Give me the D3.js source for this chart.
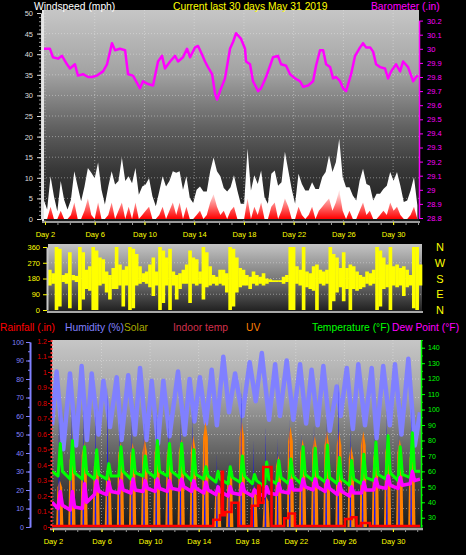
<!DOCTYPE html>
<html lang="en">
<head>
<meta charset="UTF-8" />
<title>Last 30 days</title>
<style>
  html, body { margin: 0; padding: 0; background: #000; }
  svg { display: block; }
</style>
</head>
<body>
<div id="chart"></div>
<script src="https://cdn.jsdelivr.net/npm/d3@7"></script>
<script>
// ---------- data ----------
const dayTicks = [2, 6, 10, 14, 18, 22, 26, 30];
const days = d3.range(2, 32); // day 2 .. day 31

// barometer (.in)
const baroDay = [1.92,2.40,2.64,3.05,3.37,3.77,4.01,4.41,4.65,5.06,5.46,5.78,6.18,6.67,6.99,7.39,7.63,8.03,8.44,8.68,9.08,9.64,9.88,10.29,10.69,11.09,11.41,11.65,12.06,12.46,12.70,13.10,13.42,13.67,14.07,14.31,14.63,14.87,15.11,15.44,15.68,15.84,16.08,16.48,16.88,17.13,17.37,17.77,18.09,18.17,18.49,18.73,19.14,19.38,19.78,20.10,20.34,20.74,20.99,21.39,21.71,22.11,22.51,22.76,23.16,23.56,23.80,24.12,24.37,24.61,24.93,25.17,25.41,25.73,25.97,26.22,26.62,26.94,27.34,27.58,27.82,28.15,28.39,28.63,28.95,29.35,29.59,29.84,30.24,30.56,30.80,31.20,31.61,31.85,32.0];
const baroValue = [30.00,30.00,29.94,29.93,29.95,29.89,29.86,29.89,29.81,29.82,29.80,29.80,29.81,29.84,29.89,30.04,29.99,30.00,29.99,29.82,29.81,29.72,29.77,29.75,29.74,29.91,29.95,29.86,29.91,29.95,29.91,29.94,30.00,29.94,30.01,30.02,29.96,29.91,29.87,29.82,29.68,29.64,29.70,29.79,30.00,30.05,30.11,30.07,30.00,29.91,29.89,29.77,29.70,29.72,29.80,29.88,29.94,29.95,29.89,29.88,29.82,29.79,29.77,29.73,29.74,29.77,29.88,29.99,29.99,29.89,29.87,29.79,29.80,29.77,29.72,29.70,29.82,29.95,30.01,30.04,30.01,30.01,29.98,29.89,29.87,29.86,29.79,29.84,29.89,29.84,29.91,29.87,29.77,29.80,29.81];

// wind gust and average wind (mph), evenly spaced through the 30 days
const windGust = [4.7,2.3,10.4,5.5,1.9,9.2,4.7,2.3,4.7,11.6,7.9,4.3,7.9,12.4,11.2,9.9,13.7,7.1,3.5,7.9,11.6,8.4,9.2,14.9,9.2,10.4,8.7,12.4,5.9,7.9,8.4,9.9,5.5,3.1,6.7,10.4,7.9,9.2,11.6,11.2,11.6,7.1,10.4,5.1,3.9,7.1,7.9,6.7,6.7,11.6,14.9,11.6,10.4,7.5,6.7,
  7.7,10.6,6.9,3.7,3.7,17.1,6.9,10.6,8.5,11.8,5.3,3.7,11,11.8,8.1,8.9,16.3,11.8,7.3,3.7,11,8.5,6.9,6.9,8.9,7.3,7.3,10.2,11.4,15.4,11.4,13.8,19.5,10.2,7.7,7.7,5.7,4.5,9.3,12.2,8.5,8.1,4.5,6.1,6.1,7.3,8.1,11.4,9.3,11.4,8.1,4.1,4.5,6.9,10.2,3.3];
const windAvg = [0,0,3,0,0,2,0,0,1,4,0,0,2,5,1,0,4,0,0,1,4,0,2,4,0,3,0,4,0,1,2,3,0,0,1,3,0,2,4,1,4,0,3,0,0,1,2,0,1,4,6,3,1,2,0,
  2,3,0,0,0,5,0,3,1,4,0,0,3,4,0,2,5,3,0,0,3,1,0,1,3,0,2,3,4,5,2,4,7,2,0,2,0,0,2,4,1,2,0,0,1,2,1,4,2,3,1,0,0,1,3,0];

// wind direction range per time slot (degrees)
const dirLow = [140,150,0,20,160,150,10,170,160,0, 60,120,110,0,0,140,150,100,60,120, 120,140,20,140,0,10,140,150,160,150, 130,80,140,0,40,140,0,140,60,120,
  150,150,40,150,140,150,60,130,140,150, 140,150,140,100,0,20,100,130,140,140, 120,150,140,150,140,150,160,160,160,160, 150,160,0,0,150,140,0,130,120,110,
  0,150,140,150,0,50,100,130,50,120, 0,120,110,120,130,150,140,150,0,20, 120,130,0,140,130,140,80,130,140,10, 0,140];
const dirHigh = [230,210,360,350,200,210,330,200,195,360, 330,230,250,360,340,300,290,220,200,240, 360,260,230,250,360,350,320,250,210,220, 260,300,220,360,340,300,350,220,200,210,
  230,260,340,300,290,220,360,330,250,200, 190,230,230,210,360,350,300,240,230,200, 190,220,200,190,210,180,175,170,170,170, 190,200,360,360,250,230,360,220,210,250,
  260,230,220,230,360,320,300,240,330,240, 260,250,220,200,190,220,210,230,360,340, 300,260,360,250,260,240,250,230,200,360, 360,260];
const compass = ["N", "W", "S", "E", "N"];

// humidity (%)
const humDay = [1.92,2.30,2.85,3.40,3.90,4.36,4.80,5.19,5.75,6.15,6.70,7.25,7.65,8.20,8.75,9.17,9.70,10.13,10.65,11.09,11.60,12.30,12.85,13.25,13.65,14.10,14.60,15.07,15.50,16.03,16.50,17.00,17.60,18.20,18.70,19.20,19.80,20.30,20.70,21.25,21.80,22.35,22.85,23.30,23.80,24.27,24.80,25.37,25.70,26.20,26.70,27.15,27.70,28.25,28.65,29.20,29.75,30.17,30.70,31.27,31.80,32.23];
const humValue = [55,84,42,83,44,87,47,83,50,79,54,81,47,82,50,86,47,79,45,79,49,84,50,80,57,81,56,85,55,92,62,83,60,89,68,94,58,88,60,90,58,88,56,85,55,87,52,76,60,86,53,88,55,86,48,87,55,88,50,91,44,62];

// daily readings, day 2 .. day 31
const solar = [20,30,32,28,22,32,32,34,34,32,33,34,38,18,22,38,18,14,28,36,33,34,36,36,30,36,30,33,33,30];
const solarPeak = [65,65,65,64,76,58,60,56,63,60,61,63,47,40,36,78,47,55,48,58,51,56,59,79,56,52,52,63,52,65];
const uv = [4.0,6.7,7.2,6.1,4.6,7.2,7.2,7.5,7.5,7.2,7.5,7.8,9.0,3.5,5.0,9.0,3.5,2.6,6.1,8.6,7.5,7.8,8.2,8.2,6.9,8.2,6.9,7.5,7.5,6.9];
const tempMin = [57,55,55,55,55,57,55,57,56,57,56,54,55,53,52,53,52,50,52,52,52,54,53,52,51,52,54,55,54,56];
const tempMax = [78,80,76,74,65,76,74,70,80,78,78,74,63,60,63,70,58,66,67,68,76,75,77,69,67,71,79,83,76,85];
const tempEve = [60,59,59,58,57,60,59,60,60,60,59,58,57,55,56,57,54,55,56,57,58,57,56,55,55,56,58,59,58,60];
const dewMin = [36,35,36,45,45,46,46,47,47,47,48,47,46,45,44,45,44,44,45,46,48,48,47,45,44,46,48,49,49,52];
const dewMax = [47,47,52,54,53,54,55,54,55,54,55,54,53,50,50,52,48,50,52,54,55,55,54,52,50,53,55,57,56,60];
const dewEve = [38,37,40,47,47,48,48,49,49,49,50,49,48,47,46,47,46,46,47,48,50,50,49,47,46,48,50,51,51,54];

// rainfall (.in), stepped
const rainDay = [1.92,15.2,15.76,15.9,16.0,16.17,16.7,17.27,18.37,18.9,19.05,19.32,20.0,21.05,21.4,21.93,26.05,26.6,27.0,27.4,28.1,32.23];
const rainValue = [0,0.04,0.07,0.35,0.07,0.09,0.15,0,0.13,0.26,0.15,0.38,0,0.05,0.08,0,0.045,0.056,0,0.02,0,0];

// ---------- chart ----------
const W = 466, H = 555;
const FONT = "'Liberation Sans', Arial, sans-serif";
const svg = d3.select("#chart").append("svg").attr("width", W).attr("height", H)
  .style("font-family", FONT);
const defs = svg.append("defs");

function vGrad(id, y0, y1, stops) {
  const g = defs.append("linearGradient").attr("id", id)
    .attr("gradientUnits", "userSpaceOnUse")
    .attr("x1", 0).attr("x2", 0).attr("y1", y0).attr("y2", y1);
  stops.forEach(([o, c, a]) => g.append("stop").attr("offset", o).attr("stop-color", c)
    .attr("stop-opacity", a == null ? 1 : a));
}
function clip(id, x, y, w, h) {
  defs.append("clipPath").attr("id", id).append("rect").attr("x", x).attr("y", y).attr("width", w).attr("height", h);
}
function styleAxis(g, color, size) {
  g.attr("font-family", FONT).attr("font-size", size);
  g.selectAll(".domain").attr("stroke", color);
  g.selectAll(".tick line").attr("stroke", color);
  g.selectAll(".tick text").attr("fill", color);
  return g;
}
const fmt1 = d => String(+d.toFixed(1));
const dayFmt = d => "Day " + d;

// ===== top panel: wind speed + barometer =====
const topBox = { x: 43, y: 10, w: 376, h: 212 };
const xTop = d3.scaleLinear().domain([1.84, 32]).range([43, 418]);
const yWind = d3.scaleLinear().domain([0, 50]).range([219, 13]);
const yBaro = d3.scaleLinear().domain([28.8, 30.2]).range([218, 20.6]);
const gustTime = d3.scaleLinear().domain([0, windGust.length - 1]).range([1.9, 31.95]);

vGrad("bgTop", topBox.y, topBox.y + topBox.h, [[0, "#c6c6c6"], [0.3, "#a2a2a2"], [0.55, "#626262"], [0.75, "#383838"], [1, "#1a1a1a"]]);
vGrad("redFade", yWind(0), yWind(6), [[0, "#ff0000", 1], [1, "#ff0000", 0.15]]);
clip("clipTop", topBox.x, topBox.y, topBox.w, topBox.h);

svg.append("rect").attr("x", topBox.x).attr("y", topBox.y).attr("width", topBox.w).attr("height", topBox.h)
  .attr("fill", "url(#bgTop)");

const topGrid = svg.append("g").attr("stroke", "#e8e8e8").attr("stroke-opacity", 0.45)
  .attr("stroke-dasharray", "1,2");
topGrid.selectAll("line.h").data(d3.range(5, 50, 5)).join("line").attr("class", "h")
  .attr("x1", topBox.x).attr("x2", topBox.x + topBox.w).attr("y1", d => yWind(d)).attr("y2", d => yWind(d));
topGrid.selectAll("line.v").data(dayTicks).join("line").attr("class", "v")
  .attr("x1", d => xTop(d)).attr("x2", d => xTop(d)).attr("y1", topBox.y).attr("y2", topBox.y + topBox.h);

const gTop = svg.append("g").attr("clip-path", "url(#clipTop)");
const windArea = d3.area().x((d, i) => xTop(gustTime(i))).y0(yWind(0)).y1(d => yWind(d));
gTop.append("path").datum(windGust).attr("fill", "#ffffff").attr("d", windArea);
gTop.append("path").datum(windAvg).attr("fill", "url(#redFade)").attr("d", windArea);
gTop.append("path").datum(d3.zip(baroDay, baroValue))
  .attr("fill", "none").attr("stroke", "#ff00ff").attr("stroke-width", 2.5).attr("stroke-linejoin", "round")
  .attr("d", d3.line().x(d => xTop(d[0])).y(d => yBaro(d[1])));

// panel rims
svg.append("line").attr("x1", 43).attr("x2", 43).attr("y1", topBox.y).attr("y2", topBox.y + topBox.h)
  .attr("stroke", "#e6e6e6").attr("stroke-width", 2);
svg.append("line").attr("x1", 42).attr("x2", 420).attr("y1", 222).attr("y2", 222)
  .attr("stroke", "#9a9a9a").attr("stroke-width", 2);

// axes
styleAxis(svg.append("g").attr("transform", "translate(41,0)")
  .call(d3.axisLeft(yWind).tickValues(d3.range(0, 51, 1)).tickSize(2).tickFormat("").tickSizeOuter(0)), "#9a9a9a", 7.5);
styleAxis(svg.append("g").attr("transform", "translate(41,0)")
  .call(d3.axisLeft(yWind).tickValues(d3.range(0, 51, 5)).tickSize(4).tickPadding(4).tickSizeOuter(0)), "#dcdcdc", 7.5);
styleAxis(svg.append("g").attr("transform", "translate(419,0)")
  .call(d3.axisRight(yBaro).tickValues(d3.range(288, 303).map(v => v / 10)).tickSize(4).tickPadding(4)
    .tickFormat(fmt1).tickSizeOuter(0)), "#ff00ff", 7.5)
  .select(".domain").attr("stroke-width", 1.5);
styleAxis(svg.append("g").attr("transform", "translate(0,222)")
  .call(d3.axisBottom(xTop).tickValues(d3.range(2, 33)).tickSize(3).tickFormat("").tickSizeOuter(0)), "#9a9a9a", 7.5)
  .select(".domain").remove();
styleAxis(svg.append("g").attr("transform", "translate(0,222)")
  .call(d3.axisBottom(xTop).tickValues(dayTicks).tickSize(3).tickPadding(7).tickFormat(dayFmt).tickSizeOuter(0)), "#ffff00", 7.5)
  .select(".domain").remove();

// header
const head = svg.append("g").attr("font-size", 10.3);
head.append("text").attr("x", 34).attr("y", 9.5).attr("fill", "#ffffff").text("Windspeed (mph)");
head.append("text").attr("x", 173).attr("y", 9.5).attr("fill", "#ffff00").text("Current last 30 days May 31 2019");
head.append("text").attr("x", 371).attr("y", 9.5).attr("fill", "#ff00ff").text("Barometer (.in)");

// ===== wind direction panel =====
const dirBox = { x: 48, y: 244, w: 374, h: 68 };
const yDir = d3.scaleLinear().domain([0, 360]).range([310, 247]);
const xDir = d3.scaleBand().domain(d3.range(dirLow.length)).range([dirBox.x, dirBox.x + dirBox.w]);
vGrad("bgDir", dirBox.y, dirBox.y + dirBox.h, [[0, "#c4c4c4"], [0.5, "#7a7a7a"], [1, "#1e1e1e"]]);

svg.append("rect").attr("x", dirBox.x).attr("y", dirBox.y).attr("width", dirBox.w).attr("height", dirBox.h)
  .attr("fill", "url(#bgDir)");
svg.append("g").attr("stroke", "#e8e8e8").attr("stroke-opacity", 0.45).attr("stroke-dasharray", "1,2")
  .selectAll("line").data([90, 180, 270]).join("line")
  .attr("x1", dirBox.x).attr("x2", dirBox.x + dirBox.w).attr("y1", d => yDir(d)).attr("y2", d => yDir(d));
svg.append("g").selectAll("rect").data(d3.zip(dirLow, dirHigh)).join("rect")
  .attr("x", (d, i) => xDir(i)).attr("width", xDir.bandwidth() + 0.3)
  .attr("y", d => yDir(d[1])).attr("height", d => Math.max(1.5, yDir(d[0]) - yDir(d[1])))
  .attr("fill", "#ffff00");
svg.append("line").attr("x1", 47).attr("x2", 423).attr("y1", 312).attr("y2", 312)
  .attr("stroke", "#a8a8a8").attr("stroke-width", 2);
styleAxis(svg.append("g").attr("transform", "translate(47,0)")
  .call(d3.axisLeft(yDir).tickValues([0, 90, 180, 270, 360]).tickSize(4).tickPadding(3).tickSizeOuter(0)), "#ffff00", 7.5)
  .select(".domain").attr("stroke", "#c8c8c8").attr("stroke-width", 2);
svg.append("g").attr("font-size", 11).attr("fill", "#ffff00").attr("text-anchor", "middle")
  .selectAll("text").data(compass).join("text")
  .attr("x", 440).attr("y", (d, i) => yDir(360 - i * 90) + 4).text(d => d);

// ===== bottom panel =====
const botBox = { x: 52, y: 340, w: 369, h: 189 };
const xBot = d3.scaleLinear().domain([1.92, 32.23]).range([52, 420]);
const yHum = d3.scaleLinear().domain([0, 100]).range([527, 342]);
const yRain = d3.scaleLinear().domain([0, 1.2]).range([527, 341]);
const yTemp = d3.scaleLinear().domain([24, 145]).range([527, 340]);
const yUV = d3.scaleLinear().domain([0, 16]).range([527, 340]);
vGrad("bgBot", botBox.y, botBox.y + botBox.h, [[0, "#c6c6c6"], [0.3, "#a4a4a4"], [0.55, "#6c6c6c"], [0.78, "#3c3c3c"], [1, "#1c1c1c"]]);
clip("clipBot", botBox.x, botBox.y, botBox.w, botBox.h);

svg.append("rect").attr("x", botBox.x).attr("y", botBox.y).attr("width", botBox.w).attr("height", botBox.h)
  .attr("fill", "url(#bgBot)");
const botGrid = svg.append("g").attr("stroke", "#e8e8e8").attr("stroke-opacity", 0.45).attr("stroke-dasharray", "1,2");
botGrid.selectAll("line.h").data(d3.range(10, 100, 10)).join("line").attr("class", "h")
  .attr("x1", botBox.x).attr("x2", botBox.x + botBox.w).attr("y1", d => yHum(d)).attr("y2", d => yHum(d));
botGrid.selectAll("line.v").data(dayTicks).join("line").attr("class", "v")
  .attr("x1", d => xBot(d)).attr("x2", d => xBot(d)).attr("y1", botBox.y).attr("y2", botBox.y + botBox.h);

const gBot = svg.append("g").attr("clip-path", "url(#clipBot)");
const peakArea = yScale => d3.area().x(p => xBot(p[0])).y0(yScale(0)).y1(p => yScale(p[1]));
const hump = (t, v, half) => [[t - half, 0], [t, v], [t + half, 0]];
// column with a pointed top, used for the UV marks
const column = (t, v, half) => [[t - half, 0], [t - half * 0.65, v * 0.85], [t, v], [t + half * 0.65, v * 0.85], [t + half, 0]];
const dayLine = d3.line().x(d => xBot(d[0])).y(d => yTemp(d[1]));

// solar humps
gBot.append("g").selectAll("path").data(solar).join("path")
  .attr("fill", "#8a8aff").attr("fill-opacity", 0.7)
  .attr("d", (v, i) => peakArea(yHum)(hump(days[i] + 0.55, v, 0.24)));
// humidity
gBot.append("path").datum(d3.zip(humDay, humValue))
  .attr("fill", "none").attr("stroke", "#8080ff").attr("stroke-width", 4.5).attr("stroke-linejoin", "round")
  .attr("d", d3.line().x(d => xBot(d[0])).y(d => yHum(d[1])));
// UV
gBot.append("g").selectAll("path").data(uv).join("path")
  .attr("fill", "#ff8000")
  .attr("d", (v, i) => peakArea(yUV)(column(days[i] + 0.56, v, 0.3)));
// solar peaks (dark blue spikes)
gBot.append("g").selectAll("path").data(solarPeak).join("path")
  .attr("fill", "#1818f0")
  .attr("d", (v, i) => peakArea(yHum)(hump(days[i] + 0.5, v, 0.07)));
// temperature
const tempPts = [[1.92, 60]].concat(days.flatMap((d, i) =>
  [[d + 0.42, tempMin[i]], [d + 0.6, tempMax[i]], [d + 0.78, tempEve[i]]]), [[32.23, 60]]);
gBot.append("path").datum(tempPts)
  .attr("fill", "none").attr("stroke", "#00ff00").attr("stroke-width", 3).attr("stroke-linejoin", "round")
  .attr("d", dayLine);
// dew point
const dewPts = [[1.92, 40]].concat(days.flatMap((d, i) =>
  [[d + 0.42, dewMin[i]], [d + 0.6, dewMax[i]], [d + 0.78, dewEve[i]]]), [[32.23, 55]]);
gBot.append("path").datum(dewPts)
  .attr("fill", "none").attr("stroke", "#ff00ff").attr("stroke-width", 3.5).attr("stroke-linejoin", "round")
  .attr("d", dayLine);
// rainfall
gBot.append("path").datum(d3.zip(rainDay, rainValue))
  .attr("fill", "none").attr("stroke", "#ff0000").attr("stroke-width", 2.5)
  .attr("d", d3.line().curve(d3.curveStepAfter).x(d => xBot(d[0])).y(d => yRain(d[1]) - 1));

// rims
svg.append("line").attr("x1", 50).attr("x2", 423).attr("y1", 529).attr("y2", 529)
  .attr("stroke", "#a8a8a8").attr("stroke-width", 2.5);
svg.append("line").attr("x1", 51.5).attr("x2", 51.5).attr("y1", 340).attr("y2", 529)
  .attr("stroke", "#ff3030").attr("stroke-width", 2).attr("stroke-dasharray", "2,2");

// axes
styleAxis(svg.append("g").attr("transform", "translate(30,0)")
  .call(d3.axisLeft(yHum).tickValues(d3.range(0, 101, 5)).tickSize(2).tickFormat("").tickSizeOuter(0)), "#8080ff", 7);
styleAxis(svg.append("g").attr("transform", "translate(30,0)")
  .call(d3.axisLeft(yHum).tickValues(d3.range(0, 101, 10)).tickSize(4).tickPadding(2).tickSizeOuter(0)), "#8080ff", 7)
  .select(".domain").attr("stroke-width", 2);
styleAxis(svg.append("g").attr("transform", "translate(50,0)")
  .call(d3.axisLeft(yRain).tickValues(d3.range(0, 13).map(v => v / 10)).tickSize(2).tickPadding(1)
    .tickFormat(fmt1).tickSizeOuter(0)), "#e00000", 7)
  .select(".domain").remove();
styleAxis(svg.append("g").attr("transform", "translate(421,0)")
  .call(d3.axisRight(yTemp).tickValues(d3.range(25, 146, 5)).tickSize(2).tickFormat("").tickSizeOuter(0)), "#00e000", 7);
styleAxis(svg.append("g").attr("transform", "translate(421,0)")
  .call(d3.axisRight(yTemp).tickValues(d3.range(30, 141, 10)).tickSize(4).tickPadding(3).tickSizeOuter(0)), "#00ff00", 7)
  .select(".domain").attr("stroke-width", 1.5);
styleAxis(svg.append("g").attr("transform", "translate(0,529)")
  .call(d3.axisBottom(xBot).tickValues(d3.range(2, 33)).tickSize(3).tickFormat("").tickSizeOuter(0)), "#9a9a9a", 7.5)
  .select(".domain").remove();
styleAxis(svg.append("g").attr("transform", "translate(0,529)")
  .call(d3.axisBottom(xBot).tickValues(dayTicks).tickSize(3).tickPadding(7).tickFormat(dayFmt).tickSizeOuter(0)), "#ffff00", 7.5)
  .select(".domain").remove();

// legend
const legend = [
  { text: "Rainfall (.in)", x: 0, color: "#ff0000" },
  { text: "Humidity (%)", x: 65, color: "#8080ff" },
  { text: "Solar", x: 124, color: "#a8a800" },
  { text: "Indoor temp", x: 173, color: "#d0304c" },
  { text: "UV", x: 246, color: "#ff8000" },
  { text: "Temperature (°F)", x: 312, color: "#00ff00" },
  { text: "Dew Point (°F)", x: 392, color: "#ff00ff" }
];
svg.append("g").attr("font-size", 10.3).selectAll("text").data(legend).join("text")
  .attr("x", d => d.x).attr("y", 331).attr("fill", d => d.color).text(d => d.text);
</script>
</body>
</html>
